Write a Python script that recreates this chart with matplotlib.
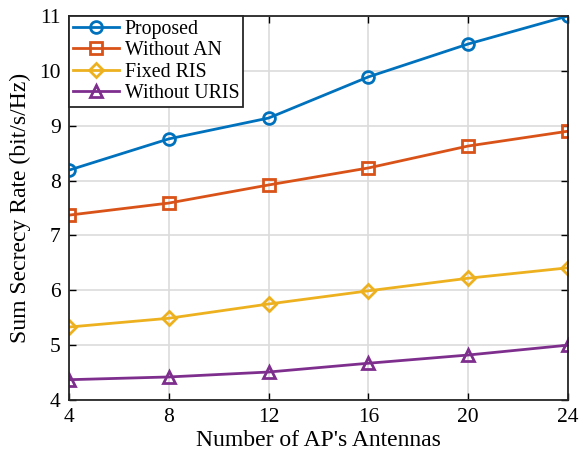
import matplotlib
matplotlib.use("Agg")
import matplotlib.pyplot as plt

# data
antennas = [4, 8, 12, 16, 20, 24]
proposed = [8.19, 8.76, 9.14, 9.89, 10.49, 11.0]
without_an = [7.37, 7.59, 7.92, 8.23, 8.63, 8.90]
fixed_ris = [5.33, 5.49, 5.75, 5.99, 6.22, 6.41]
without_uris = [4.37, 4.42, 4.51, 4.67, 4.82, 5.0]

plt.rcParams['font.family'] = ['Liberation Serif', 'DejaVu Serif']
plt.rcParams['mathtext.fontset'] = 'stix'

fig = plt.figure(figsize=(5.82, 4.62), dpi=100)
ax = fig.add_axes([69 / 582, 1 - 400 / 462, (568 - 69) / 582, (400 - 16) / 462])

ax.plot(antennas, proposed, '-o', color='#0072BD', lw=2, ms=8.5, mfc='none', mew=2, label='Proposed')
ax.plot(antennas, without_an, '-s', color='#D95319', lw=2, ms=8, mfc='none', mew=2, label='Without AN')
ax.plot(antennas, fixed_ris, '-D', color='#EDB120', lw=2, ms=7.5, mfc='none', mew=2, label='Fixed RIS')
ax.plot(antennas, without_uris, '-^', color='#7E2F8E', lw=2, ms=9, mfc='none', mew=2, label='Without URIS')

ax.set_xlim(4, 24)
ax.set_ylim(4, 11)
ax.set_xticks(antennas)
ax.set_yticks(range(4, 12))
ax.grid(True, color='#dcdcdc', lw=1.2)
ax.set_axisbelow(True)
ax.tick_params(direction='in', labelsize=15.5, top=True, right=True, length=5, width=1, pad=6)
for s in ax.spines.values():
    s.set_linewidth(1.3)
    s.set_color('#262626')

ax.set_xlabel("Number of AP's Antennas", fontsize=17, labelpad=2)
ax.set_ylabel("Sum Secrecy Rate (bit/s/Hz)", fontsize=17, labelpad=6)

leg = ax.legend(loc='upper left', fontsize=14.3, fancybox=False, edgecolor='#262626',
                borderaxespad=0, handlelength=2.3, handletextpad=0.3,
                labelspacing=0.12, borderpad=0.2, framealpha=1)
leg.get_frame().set_linewidth(1.3)

fig.savefig("out.png", dpi=100)
